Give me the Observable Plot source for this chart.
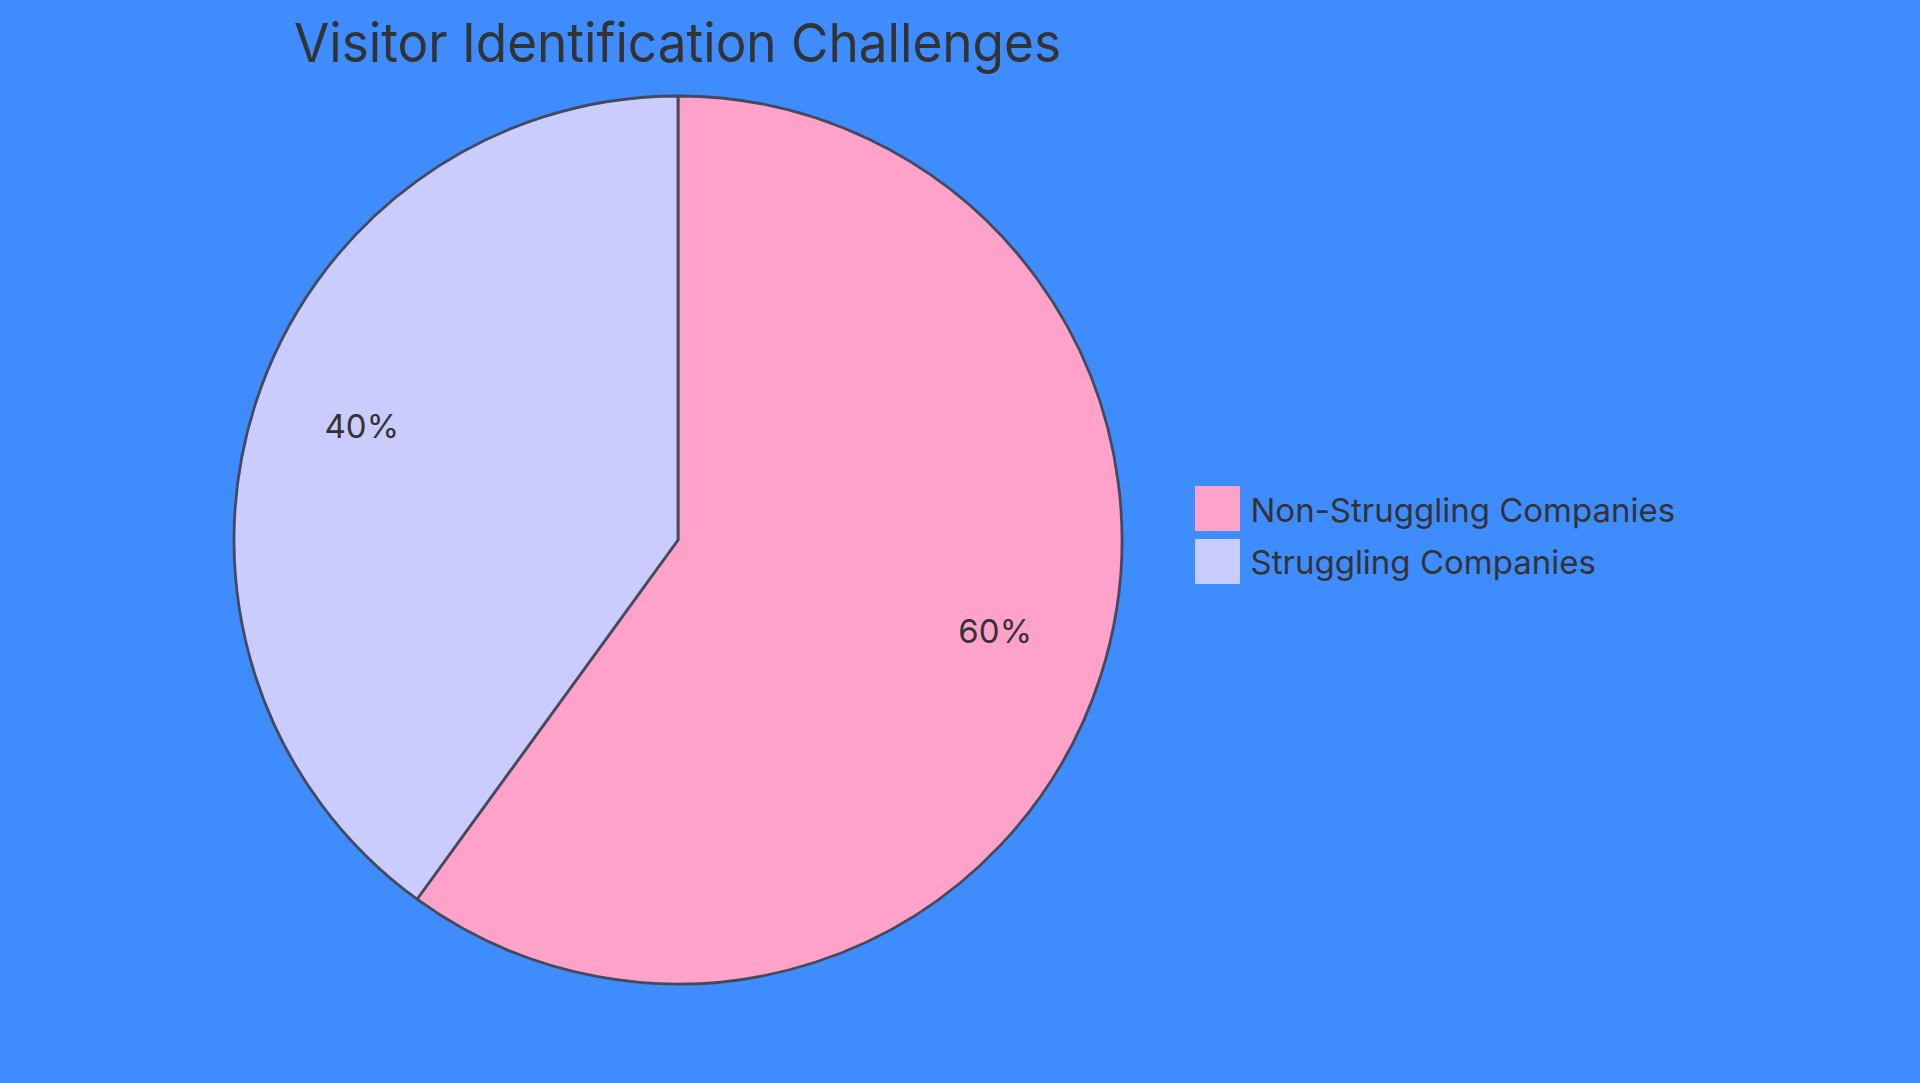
<!DOCTYPE html>
<html>
<head>
<meta charset="utf-8">
<script src="https://cdn.jsdelivr.net/npm/d3@7"></script>
<script src="https://cdn.jsdelivr.net/npm/@observablehq/plot@0.6"></script>
<style>
  html, body { margin: 0; padding: 0; background: #3F8CFF; }
  #chart { width: 1920px; height: 1083px; }
</style>
</head>
<body>
<div id="chart"></div>
<script>
// ---- data ----
const title = "Visitor Identification Challenges";
const categories = ["Non-Struggling Companies", "Struggling Companies"];
const values = [60, 40];
const labels = ["60%", "40%"];
const colors = ["#FFA2CA", "#CACBFE"];

// ---- layout ----
const W = 1920, H = 1083;
const cx = 678, cy = 540, R = 444;
const textColor = "#333333";
const font = "Inter, 'Noto Sans', sans-serif";

const data = categories.map((c, i) => ({category: c, value: values[i], label: labels[i], color: colors[i]}));
const arcs = d3.pie().sort(null).value(d => d.value)(data);
const arcGen = d3.arc().innerRadius(0).outerRadius(R);
const labelArc = d3.arc().innerRadius(R * 0.75).outerRadius(R * 0.75);

const pieMark = (index, scales) => {
  const g = d3.create("svg:g")
    .attr("transform", `translate(${scales.x(cx)},${scales.y(cy)})`);
  g.selectAll("path")
    .data(arcs)
    .join("path")
    .attr("d", arcGen)
    .attr("fill", d => d.data.color)
    .attr("stroke", "#444a5c")
    .attr("stroke-width", 2.8)
    .attr("stroke-linejoin", "round");
  return g.node();
};

const chart = Plot.plot({
  width: W,
  height: H,
  margin: 0,
  x: {domain: [0, W], range: [0, W], axis: null},
  y: {domain: [0, H], range: [0, H], axis: null},
  style: {background: "#3F8CFF", fontFamily: font, overflow: "visible"},
  marks: [
    pieMark,
    Plot.text(arcs, {
      x: d => cx + labelArc.centroid(d)[0],
      y: d => cy + labelArc.centroid(d)[1],
      text: d => d.data.label,
      fontSize: 33,
      fill: textColor,
      lineAnchor: "bottom"
    }),
    Plot.text([title], {
      x: () => 677,
      y: () => 61,
      text: d => d,
      fontSize: 54,
      fill: textColor,
      lineAnchor: "bottom",
      className: "chart-title"
    }),
    Plot.rect(data, {
      x1: () => 1195,
      x2: () => 1240,
      y1: (d, i) => 486 + i * 53,
      y2: (d, i) => 531 + i * 53,
      fill: d => d.color
    }),
    Plot.text(data, {
      x: () => 1250,
      y: (d, i) => 521 + i * 52,
      text: d => d.category,
      textAnchor: "start",
      fontSize: 33,
      fill: textColor,
      lineAnchor: "bottom"
    })
  ]
});

d3.select(chart).selectAll(".chart-title text")
  .attr("textLength", 767)
  .attr("lengthAdjust", "spacingAndGlyphs");

document.getElementById("chart").appendChild(chart);
</script>
</body>
</html>
